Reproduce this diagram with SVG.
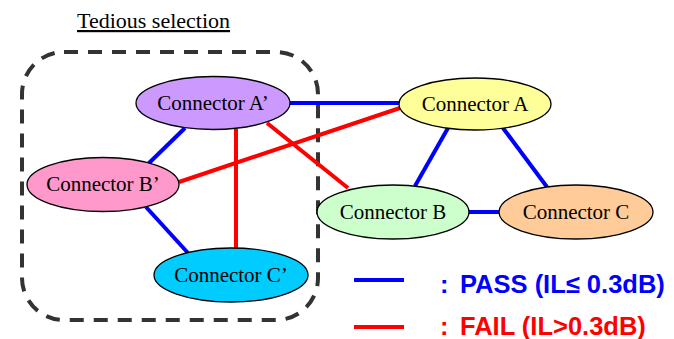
<svg xmlns="http://www.w3.org/2000/svg" width="674" height="339" viewBox="0 0 674 339">
<style>
.serif{font-family:"Liberation Serif","Times New Roman",Times,"DejaVu Serif",serif}
.node ellipse{stroke:#000;stroke-width:1.3}
.node text{font-size:21px;text-anchor:middle;fill:#000}
.pass{stroke:#0000ff;stroke-width:4;fill:none}
.fail{stroke:#ff0000;stroke-width:4;fill:none}
.leg{font-family:"Liberation Sans",Arial,sans-serif;font-weight:bold;font-size:25.5px}
</style>
<rect width="674" height="339" fill="#fff"/>
<text class="serif" x="77" y="28" font-size="22" text-decoration="underline" fill="#000">Tedious selection</text>
<rect id="group-box" x="22" y="52" width="296" height="268" rx="42" ry="42" fill="none" stroke="#333" stroke-width="4" stroke-dasharray="14 10"/>
<g id="connectors">
<line class="pass" x1="290" y1="103" x2="400" y2="103"/>
<line class="pass" x1="185" y1="128" x2="148" y2="164"/>
<line class="fail" x1="236" y1="129" x2="236" y2="249"/>
<line class="fail" x1="267" y1="123" x2="348" y2="188"/>
<line class="fail" x1="179" y1="182" x2="400" y2="108"/>
<line class="pass" x1="146" y1="207" x2="188" y2="253"/>
<line class="pass" x1="448" y1="128" x2="415" y2="186"/>
<line class="pass" x1="503" y1="128" x2="547" y2="187"/>
<line class="pass" x1="468" y1="212" x2="500" y2="212"/>
</g>
<g id="node-a-prime" class="node serif"><ellipse cx="213" cy="103" rx="77" ry="26.5" fill="#cc99ff"/><text x="213" y="110">Connector A’</text></g>
<g id="node-a" class="node serif"><ellipse cx="475" cy="104" rx="76" ry="26" fill="#ffff99"/><text x="475" y="111">Connector A</text></g>
<g id="node-b-prime" class="node serif"><ellipse cx="103" cy="184.5" rx="76" ry="27" fill="#ff99cc"/><text x="103" y="191">Connector B’</text></g>
<g id="node-b" class="node serif"><ellipse cx="393" cy="212" rx="76" ry="27" fill="#ccffcc"/><text x="393" y="219">Connector B</text></g>
<g id="node-c" class="node serif"><ellipse cx="576" cy="212" rx="77" ry="27" fill="#ffcc99"/><text x="576" y="219">Connector C</text></g>
<g id="node-c-prime" class="node serif"><ellipse cx="231" cy="275" rx="77" ry="27" fill="#00ccff"/><text x="231" y="282">Connector C’</text></g>
<g id="legend">
<line class="pass" x1="354" y1="280" x2="404" y2="280"/>
<line class="fail" x1="354" y1="327" x2="404" y2="327"/>
<text class="leg" x="440" y="293" fill="#0000ff">:</text>
<text class="leg" x="460" y="293" fill="#0000ff">PASS (IL≤ 0.3dB)</text>
<text class="leg" x="440" y="335" fill="#ff0000">:</text>
<text class="leg" x="460" y="335" fill="#ff0000">FAIL (IL&gt;0.3dB)</text>
</g>
</svg>
